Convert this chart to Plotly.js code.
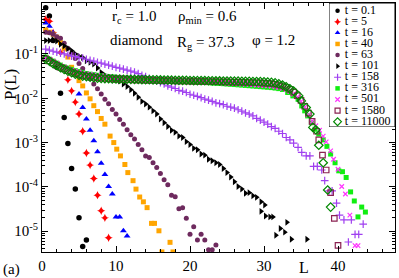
<!DOCTYPE html>
<html><head><meta charset="utf-8">
<script src="https://cdn.plot.ly/plotly-3.0.1.min.js"></script>
<style>html,body{margin:0;padding:0;background:#fff}#chart{width:399px;height:278px}</style>
</head><body><div id="chart"></div>
<script>
const seriesLabels = ["t = 0.1","t = 5","t = 16","t = 40","t = 63","t = 101","t = 158","t = 316","t = 501","t = 1580","t = 11000"];

const L_t0p1 = [0.5,1,1.5,2,2.5,3,3.5,4,4.5,5,5.5,6];
const P_t0p1 = [1.1,0.72,0.2,0.05,0.013,0.0037,9.5e-4,2.6e-4,8.9e-5,2.0e-5,4.5e-6,6.3e-6];

const L_t5 = [0.5,1,1.5,2.5,3.5,4,4.5,5,5.5,6,6.5,7,7.5,8,8.5,9];
const P_t5 = [0.6,0.55,0.3,0.108,0.026,0.0147,0.0082,0.0044,0.0018,5.8e-4,3.1e-4,1.55e-4,6.5e-5,2.9e-5,2.0e-5,7.1e-6];

const L_t16 = [0.5,1,1.5,5,5.5,6,6.5,7,7.5,8,8.5,9,9.5,10,10.5,11,11.5];
const P_t16 = [0.5,0.42,0.3,0.0124,0.0062,0.0034,0.0019,0.0011,6.2e-4,3.4e-4,1.9e-4,1.02e-4,6.9e-5,2.1e-5,2.1e-5,1.02e-5,7.8e-6];

const L_t40 = [0.5,1,1.5,2,2.5,3,3.5,4,4.5,5,5.5,6,6.5,7,7.5,8,8.5,9.2,9.7,10.1,10.6,11.2,11.6,12.3,12.7,13.2,13.7,14.2,14.8,15.2,15.8,16.2,17.3,17.7];
const P_t40 = [0.35,0.31,0.28,0.24,0.18,0.13,0.085,0.05,0.036,0.025,0.019,0.0132,0.0097,0.0068,0.0050,0.0035,0.0026,0.0014,0.0010,7.1e-4,5.0e-4,3.2e-4,2.1e-4,1.38e-4,8.9e-5,5.9e-5,4.6e-5,3.4e-5,1.5e-5,1.5e-5,1.02e-5,3.4e-6,5.6e-6,3.4e-6];

const L_t63 = [0.5,1,1.5,2,2.5,3,3.5,4,4.5,5,5.5,6,6.5,7,7.5,8,8.5,9,9.5,10,10.5,11,11.5,12,12.5,13,13.5,14,14.5,15,15.5,16,16.5,17,17.5,18,18.5,19,19.5,20,20.5,21,21.5,22,22.5,23,23.5];
const P_t63 = [0.31,0.30,0.28,0.245,0.225,0.175,0.135,0.104,0.079,0.061,0.047,0.036,0.0275,0.021,0.0163,0.0125,0.0095,0.0075,0.0056,0.0044,0.0033,0.0026,0.00195,0.0015,0.0012,9.1e-4,6.9e-4,5.0e-4,4.6e-4,3.5e-4,2.75e-4,2.0e-4,1.45e-4,1.12e-4,6.5e-5,6.0e-5,3.2e-5,3.4e-5,1.95e-5,8.5e-6,1.26e-5,6.3e-6,8.5e-6,6.3e-6,3.8e-6,3.8e-6,4.9e-6];

const L_t101 = [0.5,1,1.5,2,2.5,3,3.5,4,4.5,5,5.5,6,6.5,7,7.5,8,8.5,9,9.5,10,10.5,11,11.5,12,12.5,13,13.5,14,14.5,15,15.5,16,16.5,17,17.5,18,18.5,19,19.5,20,20.5,21,21.5,22,22.5,23,23.5,24,24.5,25,25.5,26,26.5,27,27.5,28,28.5,29,29.6,29.6,30.1,30.2,30.8,31.2,31.6,32.2,32.8,33.1,33.7,35.8];
const P_t101 = [0.20,0.20,0.21,0.195,0.166,0.152,0.133,0.118,0.100,0.089,0.083,0.070,0.065,0.059,0.048,0.038,0.033,0.030,0.028,0.026,0.0245,0.021,0.0185,0.0155,0.013,0.0105,0.0085,0.0074,0.0063,0.0052,0.0044,0.0034,0.0028,0.0023,0.0019,0.0017,0.0014,0.0013,0.00105,9.0e-4,7.4e-4,6.9e-4,5.5e-4,5.2e-4,4.2e-4,3.9e-4,3.5e-4,3.2e-4,2.6e-4,2.1e-4,1.66e-4,1.3e-4,1.02e-4,8.9e-5,7.2e-5,7.4e-5,6.3e-5,5.8e-5,4.6e-5,2.8e-5,3.9e-5,2.2e-5,2.1e-5,2.1e-5,8.1e-6,1.15e-5,9.5e-6,1.58e-5,6.6e-6,6.6e-6];

const L_t158 = [0.5,1,1.5,2,2.5,3,3.5,4,4.5,5,5.5,6,6.5,7,7.5,8,8.5,9,9.5,10,10.5,11,11.5,12,12.5,13,13.5,14,14.5,15,15.5,16,16.5,17,17.5,18,18.5,19,19.5,20,20.5,21,21.5,22,22.5,23,23.5,24,24.5,25,25.5,26,26.5,27,27.5,28,28.5,29,29.5,30,30.5,31,31.5,32,32.5,33,33.5,34,34.6,35.1,35.7,36.2,36.7,37.2,37.8,38.2,38.8,39.2,39.8,40.2,40.8,41.4,41.8,42.3,42.8,43.4];
const P_t158 = [0.128,0.122,0.115,0.11,0.104,0.100,0.094,0.089,0.087,0.083,0.081,0.076,0.072,0.069,0.065,0.062,0.059,0.056,0.053,0.050,0.048,0.0455,0.043,0.041,0.039,0.036,0.033,0.031,0.028,0.026,0.0245,0.0224,0.021,0.019,0.0178,0.0166,0.0151,0.0145,0.0135,0.0123,0.0117,0.011,0.0103,0.0096,0.0091,0.0085,0.0079,0.0076,0.0072,0.0066,0.0063,0.0060,0.0055,0.0051,0.0047,0.0044,0.0040,0.0035,0.0032,0.0029,0.0026,0.0023,0.0021,0.0018,0.0016,0.0013,0.00115,9.7e-4,7.8e-4,6.0e-4,5.0e-4,5.0e-4,2.9e-4,2.9e-4,2.4e-4,1.38e-4,8.1e-5,8.1e-5,4.3e-5,2.3e-5,1.8e-5,5.7e-6,1.8e-5,8.5e-6,8.5e-6,1.44e-5];

const L_t316 = [0.5,1,1.5,2,2.5,3,3.5,4,4.5,5,5.5,6,6.5,7,7.5,8,8.5,9,9.5,10,10.5,11,11.5,12,12.5,13,13.5,14,14.5,15,15.5,16,16.5,17,17.5,18,18.5,19,19.5,20,20.5,21,21.5,22,22.5,23,23.5,24,24.5,25,25.5,26,26.5,27,27.5,28,28.5,29,29.5,30,30.5,31,31.5,32,32.5,33.2,33.9,34.6,35.1,35.5,35.9,36.4,36.9,37.4,38.0,38.5,39.0,39.6,40.1,40.6,41.1,41.7,42.2,42.7,43.2,43.7];
const P_t316 = [0.085,0.076,0.069,0.062,0.056,0.051,0.048,0.045,0.042,0.040,0.038,0.036,0.035,0.034,0.033,0.032,0.0315,0.031,0.0303,0.0296,0.029,0.0285,0.0282,0.0279,0.0276,0.0274,0.0271,0.0269,0.0266,0.0263,0.0261,0.0258,0.0256,0.0253,0.0251,0.0248,0.0246,0.0243,0.0241,0.0238,0.0235,0.0233,0.023,0.0227,0.0225,0.0222,0.0219,0.0216,0.0213,0.021,0.0207,0.0204,0.0201,0.0198,0.0195,0.0192,0.0189,0.0186,0.0183,0.018,0.0177,0.0174,0.017,0.0165,0.0158,0.0135,0.0113,0.0095,0.0067,0.0052,0.0040,0.0028,0.0020,0.00155,0.00115,8.2e-4,5.5e-4,3.5e-4,2.3e-4,2.2e-4,1.63e-4,7.7e-5,4.8e-5,2.1e-5,3.5e-5,2.7e-5];

const L_t501 = [0.5,1,1.5,2,2.5,3,3.5,4,4.5,5,5.5,6,6.5,7,7.5,8,8.5,9,9.5,10,10.5,11,11.5,12,12.5,13,13.5,14,14.5,15,15.5,16,16.5,17,17.5,18,18.5,19,19.5,20,20.5,21,21.5,22,22.5,23,23.5,24,24.5,25,25.5,26,26.5,27,27.5,28,28.5,29,29.5,30,30.5,31,31.5,32,32.5,33,33.5,34,34.5,35,35.5,36,36.5,37,37.5,38.0,38.4,39.0,39.4,40.0,40.5,41.0,41.6,42.3,42.7];
const P_t501 = [0.082,0.074,0.067,0.060,0.054,0.050,0.046,0.043,0.041,0.039,0.037,0.0355,0.0343,0.0333,0.0325,0.0318,0.0311,0.0305,0.030,0.0295,0.029,0.0286,0.0283,0.028,0.0277,0.0275,0.0272,0.027,0.0268,0.0265,0.0263,0.0261,0.0258,0.0256,0.0254,0.0252,0.025,0.0247,0.0245,0.0243,0.0241,0.0239,0.0236,0.0234,0.0232,0.023,0.0227,0.0225,0.0223,0.022,0.0218,0.0215,0.0213,0.021,0.0208,0.0205,0.0202,0.0199,0.0196,0.0193,0.019,0.0186,0.0181,0.0175,0.0167,0.0156,0.0142,0.0125,0.0106,0.0085,0.0063,0.0042,0.003,0.0024,0.0019,0.0014,0.00104,6.5e-4,4.2e-4,2.5e-4,1.02e-4,6.9e-5,2.3e-5,4.7e-6,4.7e-6];

const L_t1580 = [0.5,1,1.5,2,2.5,3,3.5,4,4.5,5,5.5,6,6.5,7,7.5,8,8.5,9,9.5,10,10.5,11,11.5,12,12.5,13,13.5,14,14.5,15,15.5,16,16.5,17,17.5,18,18.5,19,19.5,20,20.5,21,21.5,22,22.5,23,23.5,24,24.5,25,25.5,26,26.5,27,27.5,28,28.5,29,29.5,30,30.5,31,31.5,32,32.5,33,33.5,34,34.5,35,35.5,36,36.5,37.1,37.4,37.9,38.4,39.0,39.5,40.0];
const P_t1580 = [0.078,0.07,0.062,0.056,0.05,0.046,0.042,0.039,0.036,0.034,0.0325,0.0315,0.0305,0.0297,0.029,0.0285,0.028,0.0277,0.0274,0.0271,0.0269,0.0267,0.0265,0.0263,0.0261,0.026,0.0259,0.0257,0.0256,0.0255,0.0254,0.0253,0.0251,0.025,0.0249,0.0248,0.0247,0.0246,0.0245,0.0244,0.0243,0.0242,0.0241,0.024,0.0239,0.0238,0.0237,0.0236,0.0235,0.0234,0.0233,0.0232,0.0231,0.023,0.0228,0.0227,0.0225,0.0224,0.0222,0.022,0.0217,0.0213,0.0207,0.0199,0.0189,0.0175,0.0158,0.0138,0.0114,0.009,0.0066,0.0046,0.003,0.0018,0.00115,5.2e-4,2.4e-4,7.4e-5,1.94e-5,4.8e-6];

const L_t11000 = [0.5,1,1.5,2,2.5,3,3.5,4,4.5,5,5.5,6,6.5,7,7.5,8,8.5,9,9.5,10,10.5,11,11.5,12,12.5,13,13.5,14,14.5,15,15.5,16,16.5,17,17.5,18,18.5,19,19.5,20,20.5,21,21.5,22,22.5,23,23.5,24,24.5,25,25.5,26,26.5,27,27.5,28,28.5,29,29.5,30,30.5,31,31.5,32,32.5,33,33.5,34,34.7,35.05,35.7,36.2,36.6,37.0,37.4,38.0,38.6,39.0];
const P_t11000 = [0.076,0.069,0.060,0.055,0.049,0.045,0.041,0.038,0.035,0.033,0.0316,0.0309,0.030,0.0292,0.0284,0.028,0.0277,0.0275,0.0273,0.0272,0.027,0.0269,0.0268,0.0267,0.0266,0.0265,0.0264,0.0263,0.0262,0.0261,0.026,0.0259,0.0258,0.0257,0.0256,0.0255,0.0254,0.0254,0.0253,0.0252,0.0251,0.025,0.0249,0.0249,0.0248,0.0247,0.0246,0.0246,0.0245,0.0245,0.0244,0.0243,0.0243,0.0242,0.0241,0.024,0.0239,0.0238,0.0237,0.0235,0.0232,0.0228,0.0222,0.0212,0.0198,0.0182,0.0163,0.0145,0.0113,0.0087,0.0062,0.0044,0.0022,0.00195,8.7e-4,3.5e-4,8.5e-5,3.5e-5];

const xTickVals = [0,10,20,30,40];
const yTickVals = [1,0.1,0.01,0.001,0.0001,0.00001];
const yTickText = ["10<sup>0</sup>","10<sup>-1</sup>","10<sup>-2</sup>","10<sup>-3</sup>","10<sup>-4</sup>","10<sup>-5</sup>"];

const seriesL = [L_t0p1,L_t5,L_t16,L_t40,L_t63,L_t101,L_t158,L_t316,L_t501,L_t1580,L_t11000];
const seriesP = [P_t0p1,P_t5,P_t16,P_t40,P_t63,P_t101,P_t158,P_t316,P_t501,P_t1580,P_t11000];

const styles = [
 {sym:'circle', color:'#000000', size:5.5, lsize:4.5},
 {sym:'star-diamond', color:'#ff0000', size:6, lsize:5},
 {sym:'triangle-up', color:'#0000ff', size:6, lsize:5},
 {sym:'square', color:'#ffa500', size:5, lsize:4.5},
 {sym:'circle', color:'#6e2a5e', size:5, lsize:4.5},
 {sym:'triangle-right', color:'#000000', size:6, lsize:5},
 {sym:'cross-thin', color:'#a040f0', size:5.5, lsize:5, open:true},
 {sym:'square', color:'#11ee11', size:5, lsize:4.5},
 {sym:'x-thin', color:'#ff33ff', size:4.5, lsize:4.5, open:true},
 {sym:'square-open', color:'#8b2252', size:5.5, lsize:5, open:true},
 {sym:'diamond-open', color:'#008800', size:6.5, lsize:6, open:true}
];

function mk(st, sz){
  return st.open ? {symbol:st.sym, size:sz, color:st.color, line:{color:st.color, width:1.2}}
                 : {symbol:st.sym, size:sz, color:st.color, line:{width:0}};
}

const serif = 'Liberation Serif, Times New Roman, serif';
const traces = [];
seriesL.forEach((L,i)=>{
  traces.push({type:'scatter', mode:'markers', x:L, y:seriesP[i], name:seriesLabels[i],
    marker:mk(styles[i], styles[i].size), hoverinfo:'skip'});
});
// legend keys drawn on an auxiliary axis pair
const legendIdx = seriesLabels.map((_,i)=>i);
seriesLabels.forEach((lab,i)=>{
  traces.push({type:'scatter', mode:'markers', x:[0.13], y:[i], xaxis:'x2', yaxis:'y2',
    marker:mk(styles[i], styles[i].lsize), hoverinfo:'skip'});
});
traces.push({type:'scatter', mode:'text', x:legendIdx.map(()=>0.24), y:legendIdx, text:seriesLabels,
  textposition:'middle right', textfont:{family:serif, size:12, color:'#000'}, xaxis:'x2', yaxis:'y2', hoverinfo:'skip'});

const minorY = [];
for (let k=-6;k<=0;k++){ for (let m=2;m<=9;m++){ minorY.push(m*Math.pow(10,k)); } }

const px = v => (v-42)/353, py = v => (252-v)/249;
const af = {family:serif, size:15, color:'#000'};
const layout = {
  width:399, height:278, showlegend:false,
  margin:{l:42,r:4,t:3,b:26,pad:0},
  paper_bgcolor:'#fff', plot_bgcolor:'rgba(0,0,0,0)',
  xaxis:{range:[0,47.7], tickmode:'array', tickvals:xTickVals, ticks:'inside', ticklen:6, tickwidth:1, tickcolor:'#000',
    showline:true, linecolor:'#000', linewidth:1, mirror:'ticks', showgrid:false, zeroline:false,
    tickfont:{family:serif, size:15, color:'#000'},
    minor:{dtick:2, tick0:0, ticks:'inside', ticklen:3, tickcolor:'#000', showgrid:false}},
  yaxis:{type:'log', range:[-5.47,0.15], tickmode:'array', tickvals:yTickVals, ticktext:yTickText,
    ticks:'inside', ticklen:6, tickwidth:1, tickcolor:'#000',
    showline:true, linecolor:'#000', linewidth:1, mirror:'ticks', showgrid:false, zeroline:false,
    tickfont:{family:serif, size:15, color:'#000'},
    minor:{tickmode:'array', tickvals:minorY, ticks:'inside', ticklen:3, tickcolor:'#000', showgrid:false}},
  xaxis2:{domain:[0.813,1], range:[0,1], visible:false, anchor:'y2', fixedrange:true},
  yaxis2:{domain:[0.502,1], range:[10.48,-0.69], visible:false, anchor:'x2', fixedrange:true},
  shapes:[{type:'rect', xref:'x2', yref:'y2', x0:0, x1:1, y0:10.48, y1:-0.69, layer:'below',
    fillcolor:'#fff', line:{color:'#000', width:1}}],
  annotations:[
    {text:'r<sub>c</sub> = 1.0', x:px(110), y:py(17), xref:'paper', yref:'paper', xanchor:'left', yanchor:'middle', showarrow:false, font:af},
    {text:'ρ<sub>min</sub> = 0.6', x:px(176), y:py(17), xref:'paper', yref:'paper', xanchor:'left', yanchor:'middle', showarrow:false, font:af},
    {text:'diamond', x:px(108), y:py(40), xref:'paper', yref:'paper', xanchor:'left', yanchor:'middle', showarrow:false, font:af},
    {text:'R<sub>g</sub> = 37.3', x:px(175), y:py(43), xref:'paper', yref:'paper', xanchor:'left', yanchor:'middle', showarrow:false, font:af},
    {text:'φ = 1.2', x:px(250), y:py(40), xref:'paper', yref:'paper', xanchor:'left', yanchor:'middle', showarrow:false, font:af},
    {text:'P(L)', x:px(10), y:py(85), xref:'paper', yref:'paper', xanchor:'center', yanchor:'middle', textangle:-90, showarrow:false, font:{family:serif,size:17,color:'#000'}},
    {text:'L', x:px(304), y:py(267), xref:'paper', yref:'paper', xanchor:'center', yanchor:'middle', showarrow:false, font:{family:serif,size:16,color:'#000'}},
    {text:'(a)', x:px(11), y:py(269), xref:'paper', yref:'paper', xanchor:'center', yanchor:'middle', showarrow:false, font:{family:serif,size:15,color:'#000'}}
  ]
};
Plotly.newPlot('chart', traces, layout, {staticPlot:true, displayModeBar:false});
</script></body></html>
